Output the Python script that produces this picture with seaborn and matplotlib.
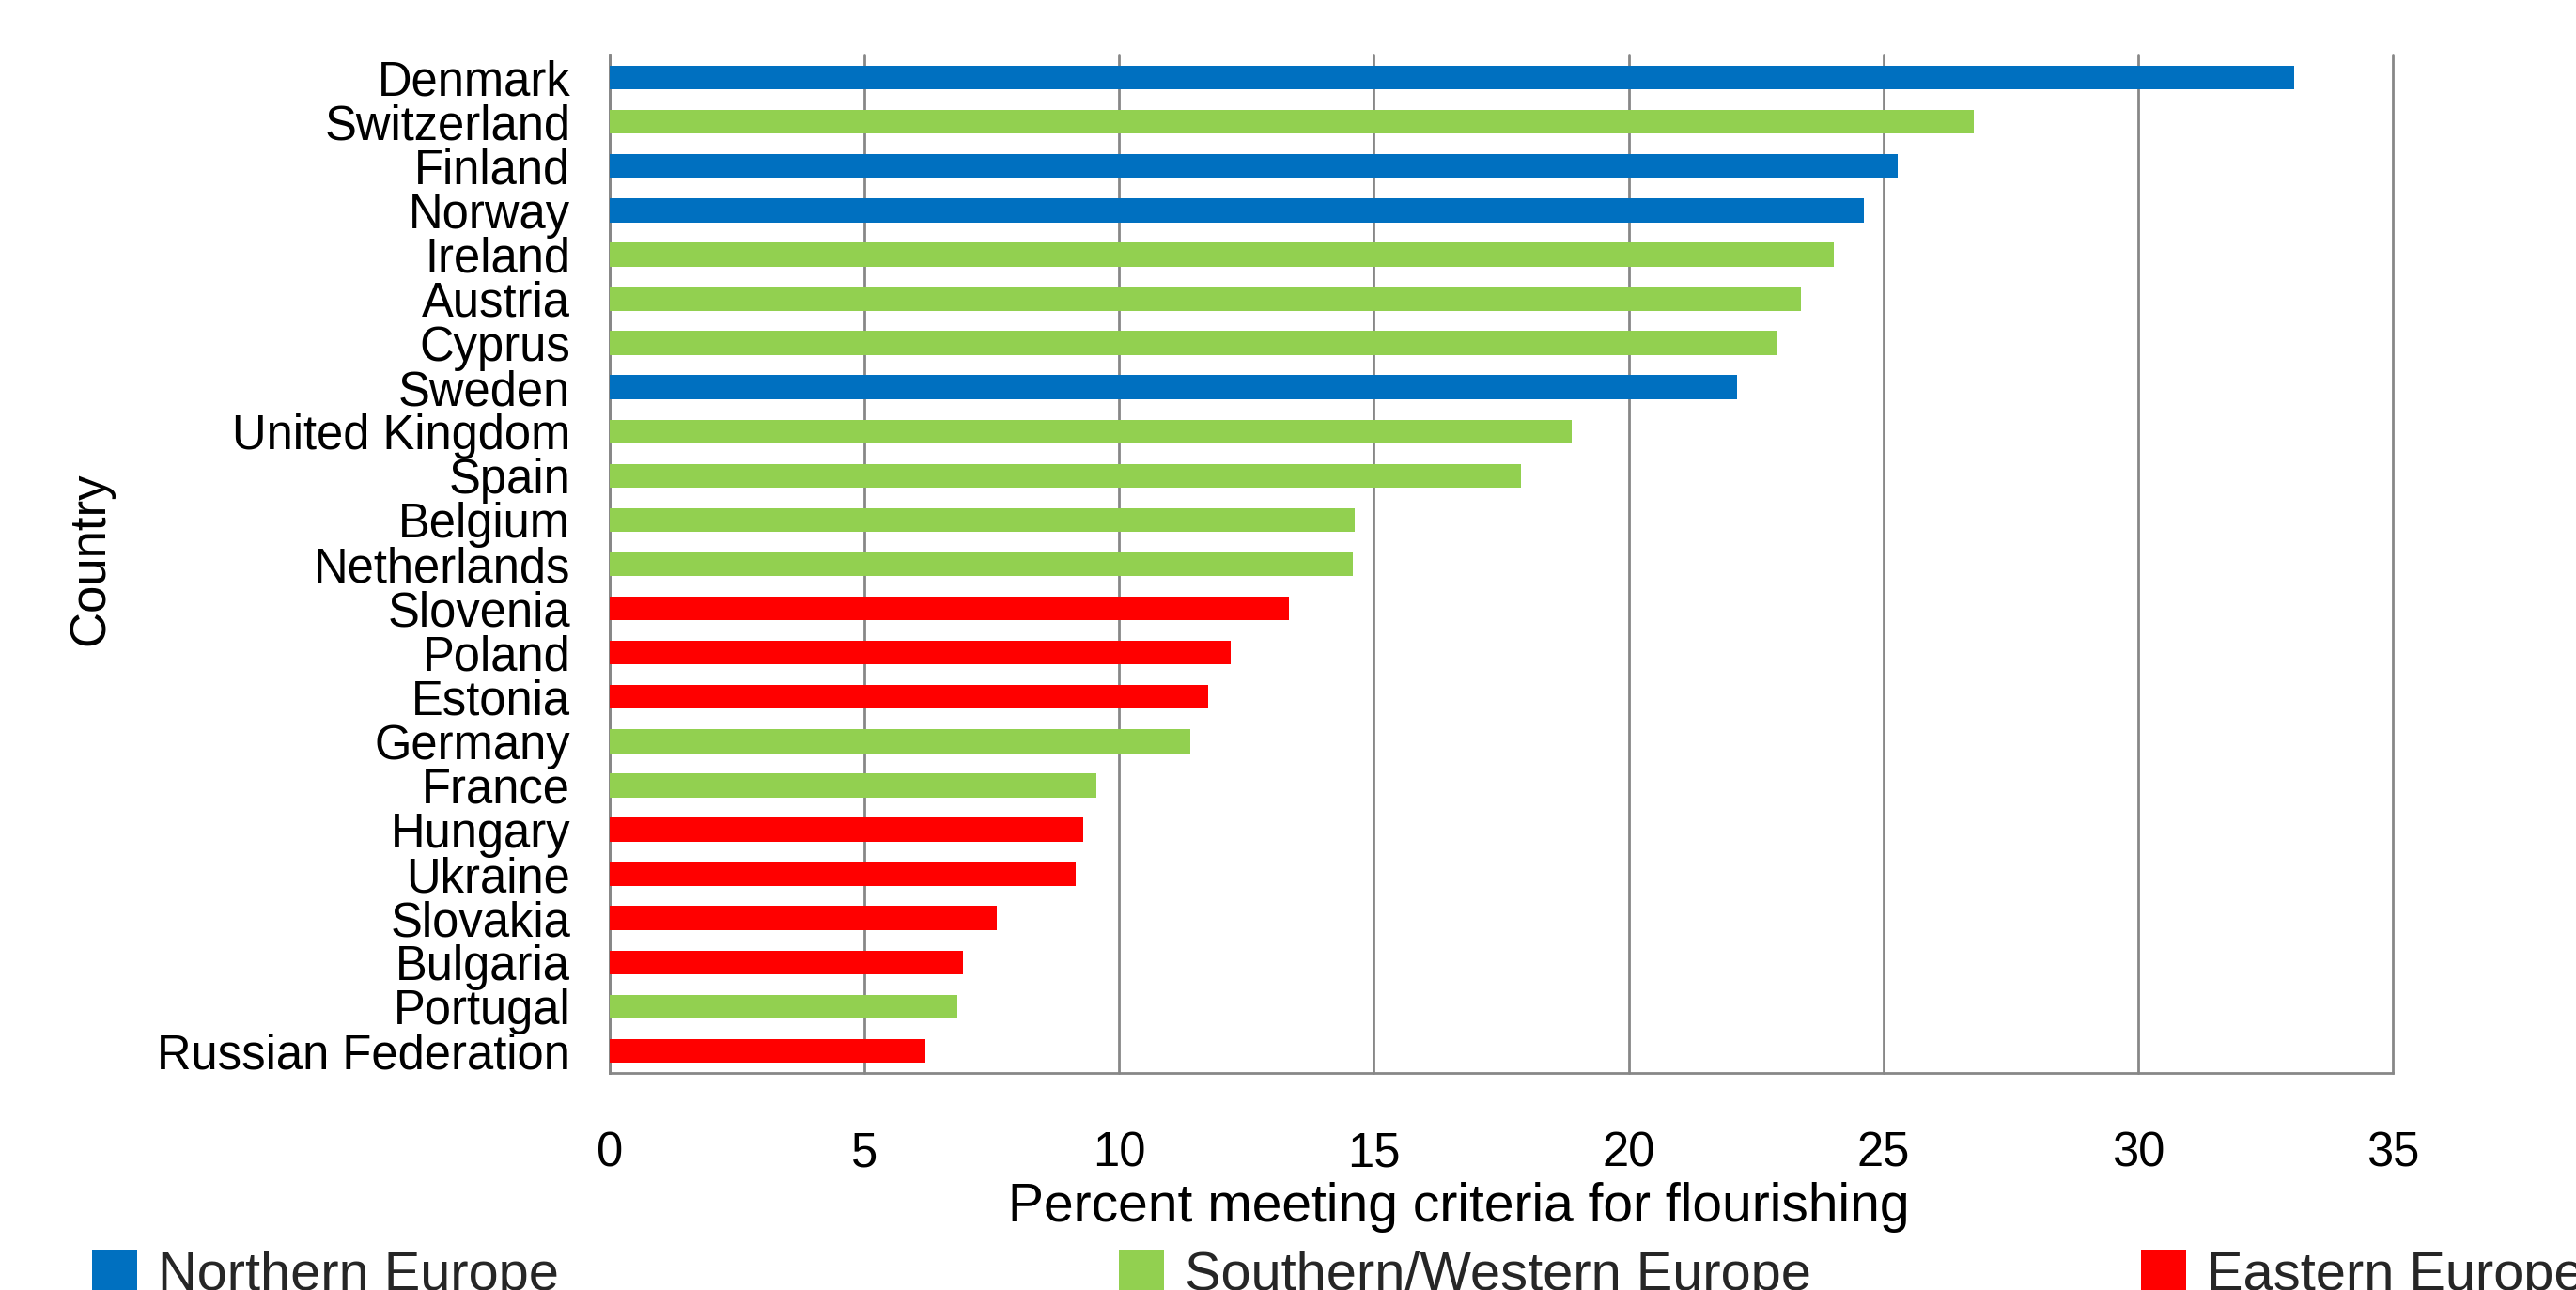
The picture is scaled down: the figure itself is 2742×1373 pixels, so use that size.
import matplotlib
matplotlib.use("Agg")
import matplotlib.pyplot as plt
from matplotlib.patches import Patch
import seaborn as sns
import pandas as pd

countries = [
    "Denmark", "Switzerland", "Finland", "Norway", "Ireland", "Austria",
    "Cyprus", "Sweden", "United Kingdom", "Spain", "Belgium", "Netherlands",
    "Slovenia", "Poland", "Estonia", "Germany", "France", "Hungary",
    "Ukraine", "Slovakia", "Bulgaria", "Portugal", "Russian Federation",
]
percent_flourishing = [
    33.07, 26.77, 25.28, 24.62, 24.03, 23.38,
    22.92, 22.13, 18.89, 17.89, 14.63, 14.58,
    13.33, 12.19, 11.74, 11.40, 9.55, 9.29,
    9.14, 7.59, 6.93, 6.83, 6.19,
]
regions = [
    "Northern Europe", "Southern/Western Europe", "Northern Europe", "Northern Europe",
    "Southern/Western Europe", "Southern/Western Europe", "Southern/Western Europe",
    "Northern Europe", "Southern/Western Europe", "Southern/Western Europe",
    "Southern/Western Europe", "Southern/Western Europe",
    "Eastern Europe", "Eastern Europe", "Eastern Europe", "Southern/Western Europe",
    "Southern/Western Europe", "Eastern Europe", "Eastern Europe", "Eastern Europe",
    "Eastern Europe", "Southern/Western Europe", "Eastern Europe",
]
region_order = ["Northern Europe", "Southern/Western Europe", "Eastern Europe"]
region_colors = {"Northern Europe": "#0070C0",
                 "Southern/Western Europe": "#92D050",
                 "Eastern Europe": "#FF0000"}
x_ticks = [0, 5, 10, 15, 20, 25, 30, 35]

df = pd.DataFrame({"Country": countries,
                   "Percent": percent_flourishing,
                   "Region": regions})

sns.set_theme(style="white")
plt.rcParams["font.family"] = ["Liberation Sans", "DejaVu Sans"]

W, H = 2742, 1373
fig = plt.figure(figsize=(W / 100, H / 100), dpi=100)
ax = fig.add_axes([649 / W, 1 - 1142 / H, (2547 - 649) / W, (1142 - 59) / H])

sns.barplot(data=df, y="Country", x="Percent", hue="Region",
            hue_order=region_order, palette=region_colors, order=countries,
            dodge=False, width=0.54, orient="h", saturation=1,
            linewidth=0, edgecolor="none",
            legend=False, ax=ax, zorder=3)

grid_color = "#878787"
ax.set_xlim(0, 35)
ax.set_ylim(22.5, -0.5)
ax.set_xticks(x_ticks)
ax.xaxis.grid(True, color=grid_color, linewidth=2, zorder=0)
for gl in ax.get_xgridlines():
    gl.set_clip_on(False)
ax.yaxis.grid(False)
ax.set_axisbelow(True)

for side in ("top", "right"):
    ax.spines[side].set_visible(False)
for side in ("left", "bottom"):
    ax.spines[side].set_color(grid_color)
    ax.spines[side].set_linewidth(2)

ax.tick_params(axis="y", length=0, pad=30, labelsize=36.5, labelcolor="black")
ax.tick_params(axis="x", length=0, pad=44, labelsize=36.5, labelcolor="black")

ax.set_xlabel("Percent meeting criteria for flourishing", fontsize=41, color="black")
ax.xaxis.label.set_va("center")
ax.xaxis.set_label_coords(0.476, -0.132)
ax.set_ylabel("Country", fontsize=38, color="black")
ax.yaxis.label.set_va("center")
ax.yaxis.set_label_coords(-0.291, 0.505)

# Legend entries spread evenly along the bottom edge
legend_x = [98, 1191, 2279]
for name, lx in zip(region_order, legend_x):
    fig.legend(handles=[Patch(facecolor=region_colors[name], edgecolor="none")],
               labels=[name], loc="upper left",
               bbox_to_anchor=(lx / W, 1 - 1330 / H),
               frameon=False, fontsize=41.6, handlelength=0.83, handleheight=0.83,
               handletextpad=0.38, borderpad=0, borderaxespad=0)

fig.savefig("out.png", dpi=100)
